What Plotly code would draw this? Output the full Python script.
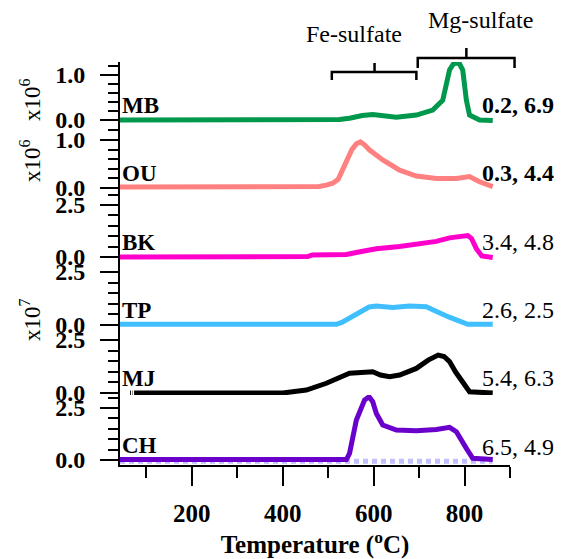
import plotly.graph_objects as go

# ---------------- data ----------------
samples = ["MB", "OU", "BK", "TP", "MJ", "CH"]
right_labels = ["0.2, 6.9", "0.3, 4.4", "3.4, 4.8", "2.6, 2.5", "5.4, 6.3", "6.5, 4.9"]
colors = ["#00984c", "#ff8080", "#ff00cc", "#40bfff", "#000000", "#6a00cc"]

MB_T = [42, 100, 200, 300, 400, 480, 525, 547, 575, 598, 625, 650, 694, 730, 752, 767, 775, 782, 789, 796, 804, 811, 833, 862]
MB_V = [0.0, 0.0, 0.0, 0.0, 0.0, 0.0, 0.01, 0.04, 0.10, 0.12, 0.09, 0.06, 0.11, 0.22, 0.44, 1.11, 1.24, 1.27, 1.25, 1.11, 0.44, 0.11, 0.0, -0.01]

OU_T = [42, 200, 400, 480, 496, 510, 522, 532, 542, 552, 562, 571, 580, 591, 621, 657, 694, 738, 782, 800, 811, 833, 862]
OU_V = [0.02, 0.02, 0.02, 0.03, 0.06, 0.10, 0.18, 0.37, 0.60, 0.80, 0.92, 0.96, 0.90, 0.79, 0.58, 0.37, 0.25, 0.20, 0.20, 0.22, 0.24, 0.13, 0.03]

BK_T = [42, 300, 455, 465, 540, 570, 606, 657, 708, 738, 767, 790, 807, 815, 826, 838, 862]
BK_V = [0.0, 0.0, 0.02, 0.10, 0.12, 0.25, 0.40, 0.50, 0.62, 0.75, 0.92, 0.95, 1.03, 0.90, 0.40, 0.05, -0.02]

TP_T = [42, 300, 518, 530, 547, 577, 590, 606, 642, 679, 716, 730, 745, 765, 782, 795, 807, 862]
TP_V = [0.03, 0.03, 0.03, 0.12, 0.32, 0.71, 0.85, 0.90, 0.83, 0.90, 0.86, 0.72, 0.55, 0.38, 0.24, 0.10, 0.03, 0.03]

MJ_T = [64, 66, 67, 69, 70, 72, 73, 75, 76, 200, 400, 452, 466, 496, 547, 580, 598, 615, 635, 657, 694, 720, 742, 755, 767, 780, 796, 811, 862]
MJ_V = [0.0, 0.0, None, 0.0, 0.0, None, 0.0, 0.0, 0.0, 0.0, 0.0, 0.14, 0.24, 0.46, 0.93, 0.97, 1.0, 0.85, 0.77, 0.85, 1.16, 1.55, 1.79, 1.72, 1.48, 1.0, 0.46, 0.06, 0.0]

CH_T = [42, 300, 540, 547, 562, 580, 590, 598, 606, 620, 650, 694, 738, 767, 782, 804, 818, 862]
CH_V = [0.02, 0.02, 0.02, 0.32, 1.92, 2.88, 3.04, 2.80, 2.24, 1.68, 1.44, 1.41, 1.47, 1.57, 1.36, 0.56, 0.08, 0.02]

CH_BASE_T = [42, 862]
CH_BASE_V = [-0.06, -0.06]

series_T = [MB_T, OU_T, BK_T, TP_T, MJ_T, CH_T]
series_V = [MB_V, OU_V, BK_V, TP_V, MJ_V, CH_V]

x_range = [42, 900]
y_titles = ["x10<sup>6</sup>", "x10<sup>6</sup>", "x10<sup>7</sup>"]

# ---------------- layout geometry (pixels, in window coordinates) ----------------
OFF = 8                       # page body margin
WIN_W, WIN_H = 562, 559
W, H = WIN_W - OFF, WIN_H - OFF
AX_L, AX_R, AX_T, AX_B = 120, 510, 62, 465   # plot area in window pixels
ML, MT = AX_L - OFF, AX_T - OFF
MR = W - (AX_R - OFF)
MB_ = H - (AX_B - OFF)
PH = AX_B - AX_T
PW = AX_R - AX_L

# (top_px, zero_px, bottom_px, px_per_unit, major dtick, minor dtick)
panels = [
    (62, 120, 125, 45.0, 1.0, 0.2),
    (125, 188, 193, 48.0, 1.0, 0.2),
    (193, 257, 262, 20.8, 2.5, 0.5),
    (262, 325, 330, 21.2, 2.5, 0.5),
    (330, 393, 398, 21.2, 2.5, 0.5),
    (395, 460, 465, 20.8, 2.5, 0.5),
]

def py2paper(py):
    return (AX_B - py) / PH

def px2paper(px):
    return (px - AX_L) / PW

def t2paper(t):
    return (t - x_range[0]) / (x_range[1] - x_range[0])

serif = "Liberation Serif"
fig = go.Figure()

# baseline (lavender dashed) under CH
fig.add_trace(go.Scatter(x=CH_BASE_T, y=CH_BASE_V, mode="lines", xaxis="x", yaxis="y6",
                         line=dict(color="#c0c0ff", width=5, dash="5px,4px"),
                         showlegend=False, hoverinfo="skip"))

for i, (name, T, V, c) in enumerate(zip(samples, series_T, series_V, colors)):
    yname = "y" if i == 0 else f"y{i+1}"
    fig.add_trace(go.Scatter(x=T, y=V, mode="lines", name=name, xaxis="x", yaxis=yname,
                             line=dict(color=c, width=5), connectgaps=False,
                             showlegend=False))

layout = dict(
    width=W, height=H,
    margin=dict(l=ML, r=MR, t=MT, b=MB_, autoexpand=False),
    paper_bgcolor="white", plot_bgcolor="white",
    showlegend=False,
    xaxis=dict(
        range=x_range, anchor="y6", showline=True, linecolor="black", linewidth=2,
        automargin=False,
        ticks="outside", ticklen=19, tickwidth=2, tickcolor="black",
        tick0=0, dtick=200, showgrid=False, zeroline=False,
        tickfont=dict(family=serif, size=25, color="black", weight="bold"),
        ticklabelstandoff=6,
        minor=dict(ticks="outside", ticklen=11, tickwidth=2, tickcolor="black", dtick=100, tick0=0, showgrid=False),
        title=dict(text="Temperature (<sup>o</sup>C)", standoff=12,
                   font=dict(family=serif, size=25, color="black", weight="bold")),
    ),
)

annotations = []
for i, (top, zero, bottom, upx, dt, mdt) in enumerate(panels):
    key = "yaxis" if i == 0 else f"yaxis{i+1}"
    yref = "y" if i == 0 else f"y{i+1}"
    layout[key] = dict(
        domain=[py2paper(bottom), py2paper(top)],
        range=[-(bottom - zero) / upx, (zero - top) / upx],
        anchor="x", showline=True, linecolor="black", linewidth=2,
        automargin=False,
        ticks="outside", ticklen=18, tickwidth=2, tickcolor="black",
        tick0=0, dtick=dt, tickformat=".1f", showgrid=False, zeroline=False,
        tickfont=dict(family=serif, size=24, color="black", weight="bold"),
        ticklabelstandoff=10,
        minor=dict(ticks="outside", ticklen=10, tickwidth=2, tickcolor="black", dtick=mdt, tick0=0, showgrid=False),
    )
    annotations.append(dict(text=samples[i], xref="paper", x=0, xanchor="left",
                            yref=yref, y=0, yanchor="bottom", yshift=0, showarrow=False,
                            font=dict(family=serif, size=23, color="black", weight="bold")))
    annotations.append(dict(text=right_labels[i], xref="x", x=833, xanchor="left",
                            yref=yref, y=0, yanchor="bottom", yshift=(-2 if i == 5 else 0), showarrow=False,
                            font=dict(family=serif, size=24, color="black",
                                      weight=("bold" if i < 2 else "normal"))))

# y-axis multiplier titles
for txt, py in zip(y_titles, [100, 161, 320]):
    annotations.append(dict(text=txt, xref="paper", x=px2paper(30), xanchor="center",
                            yref="paper", y=py2paper(py), yanchor="middle", textangle=-90,
                            showarrow=False, font=dict(family=serif, size=23, color="black")))

# bracket labels
annotations.append(dict(text="Fe-sulfate", xref="paper", x=px2paper(354), xanchor="center",
                        yref="paper", y=py2paper(34), yanchor="middle",
                        showarrow=False, font=dict(family=serif, size=24, color="black")))
annotations.append(dict(text="Mg-sulfate", xref="paper", x=px2paper(480), xanchor="center",
                        yref="paper", y=py2paper(20), yanchor="middle",
                        showarrow=False, font=dict(family=serif, size=24, color="black")))

layout["annotations"] = annotations

# brackets
def bracket(t0, t1, tc, y_bar, y_end, y_top):
    a, b, c = t2paper(t0), t2paper(t1), t2paper(tc)
    yb, ye, yt = py2paper(y_bar), py2paper(y_end), py2paper(y_top)
    path = f"M {a},{ye} L {a},{yb} L {b},{yb} L {b},{ye} M {c},{yb} L {c},{yt}"
    return dict(type="path", xref="paper", yref="paper", path=path,
                line=dict(color="black", width=2.5))

layout["shapes"] = [
    bracket(508, 694, 602, 72, 80, 63),
    bracket(697, 910, 804, 58, 68, 48),
]

fig.update_layout(**layout)
fig.write_html("out.html")
